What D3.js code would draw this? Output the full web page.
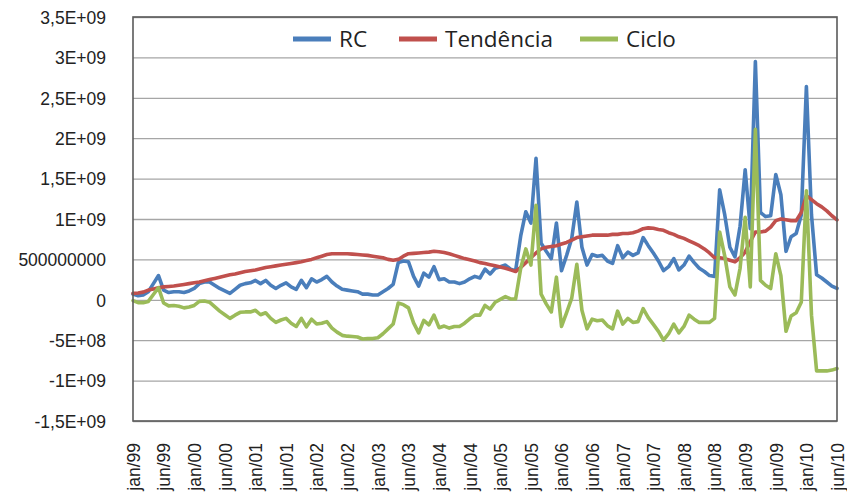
<!DOCTYPE html>
<html>
<head>
<meta charset="utf-8">
<script src="https://cdn.jsdelivr.net/npm/d3@7"></script>
<style>
  body { margin: 0; background: #fff; }
  svg { display: block; font-family: "Open Sans", sans-serif; }
</style>
</head>
<body>
<div id="chart"></div>
<script>

// valores em unidades de 1e8, mensal de jan/99 a jun/10
const UNIT = 1e8;

const rc = [
  0.7, 0.5, 0.6, 1.0, 2.0, 3.0, 1.2, 0.9, 1.0, 1.0,
  0.9, 1.1, 1.4, 2.0, 2.2, 2.2, 1.8, 1.4, 1.1, 0.8,
  1.3, 1.8, 2.0, 2.1, 2.4, 2.0, 2.4, 1.8, 1.4, 1.8,
  2.1, 1.6, 1.3, 2.4, 1.5, 2.6, 2.2, 2.5, 2.9, 2.2,
  1.7, 1.3, 1.2, 1.1, 1.0, 0.7, 0.7, 0.6, 0.6, 1.0,
  1.4, 1.9, 4.6, 4.8, 4.7, 2.9, 1.7, 3.3, 2.8, 4.1,
  2.5, 2.6, 2.2, 2.2, 2.0, 2.2, 2.6, 2.9, 2.7, 3.8,
  3.2, 3.9, 4.1, 4.3, 3.8, 3.6, 7.9, 10.9, 9.5, 17.5,
  7.0, 6.0, 5.1, 9.5, 3.6, 5.5, 7.6, 12.1, 6.5, 4.3,
  5.6, 5.4, 5.5, 4.8, 4.5, 6.7, 5.2, 5.9, 5.5, 5.8,
  7.7, 6.7, 5.8, 4.8, 3.6, 4.1, 5.1, 3.7, 4.3, 5.4,
  4.6, 3.9, 3.5, 3.0, 2.9, 13.6, 10.5, 6.5, 5.3, 9.1,
  16.1, 8.8, 29.5, 10.8, 10.3, 10.4, 15.5, 13.0, 6.0, 7.8,
  8.2, 10.5, 26.4, 10.5, 3.1, 2.7, 2.2, 1.7, 1.4
];

const tendencia = [
  0.8, 0.85, 0.95, 1.2, 1.35, 1.5, 1.6, 1.65, 1.7, 1.8,
  1.9, 2.0, 2.1, 2.2, 2.35, 2.5, 2.65, 2.8, 2.95, 3.1,
  3.2, 3.35, 3.5, 3.6, 3.7, 3.85, 4.0, 4.1, 4.2, 4.3,
  4.4, 4.5, 4.6, 4.7, 4.85, 5.0, 5.2, 5.4, 5.6, 5.7,
  5.7, 5.7, 5.7, 5.65, 5.6, 5.55, 5.5, 5.4, 5.3, 5.2,
  5.0, 4.9, 5.0, 5.4, 5.7, 5.75, 5.8, 5.85, 5.9, 6.0,
  5.95, 5.85, 5.7, 5.5, 5.3, 5.1, 4.95, 4.8, 4.6, 4.5,
  4.35, 4.2, 4.05, 3.9, 3.7, 3.5, 4.0, 4.6, 5.2, 5.8,
  6.3, 6.5, 6.6, 6.7, 6.9, 7.1, 7.4, 7.7, 7.8, 7.9,
  8.0, 8.0, 8.0, 8.0, 8.1, 8.1, 8.2, 8.2, 8.3, 8.5,
  8.8, 8.9, 8.85, 8.7, 8.6, 8.3, 8.1, 7.8, 7.6, 7.3,
  7.0, 6.7, 6.3, 5.8, 5.2, 5.2, 5.1, 4.9, 4.7, 5.2,
  5.9, 7.2, 8.4, 8.4, 8.5, 9.0, 9.8, 10.0, 9.9, 9.8,
  9.8, 10.8, 12.9, 12.4, 11.9, 11.5, 11.0, 10.4, 9.9
];

const ciclo = [
  -0.1, -0.35, -0.35, -0.2, 0.65, 1.5, -0.4, -0.75, -0.7, -0.8,
  -1.0, -0.9, -0.7, -0.2, -0.15, -0.3, -0.85, -1.4, -1.85, -2.3,
  -1.9, -1.55, -1.5, -1.5, -1.3, -1.85, -1.6, -2.3, -2.8, -2.5,
  -2.3, -2.9, -3.3, -2.3, -3.35, -2.4, -3.0, -2.9, -2.7, -3.5,
  -4.0, -4.4, -4.5, -4.55, -4.6, -4.85, -4.8, -4.8, -4.7, -4.2,
  -3.6, -3.0, -0.4, -0.6, -1.0, -2.85, -4.1, -2.55, -3.1, -1.9,
  -3.45, -3.25, -3.5, -3.3, -3.3, -2.9, -2.35, -1.9, -1.9, -0.7,
  -1.15, -0.3, 0.05, 0.4, 0.1, 0.1, 3.9, 6.3, 4.3, 11.7,
  0.7, -0.5, -1.5, 2.8, -3.3, -1.6, 0.2, 4.4, -1.3, -3.6,
  -2.4, -2.6, -2.5, -3.2, -3.6, -1.4, -3.0, -2.3, -2.8, -2.7,
  -1.1, -2.2, -3.05, -3.9, -5.0, -4.2, -3.0, -4.1, -3.3, -1.9,
  -2.4, -2.8, -2.8, -2.8, -2.3, 8.4, 5.4, 1.6, 0.6, 3.9,
  10.2, 1.6, 21.1, 2.4, 1.8, 1.4, 5.7, 3.0, -3.9, -2.0,
  -1.6, -0.3, 13.5, -1.9, -8.8, -8.8, -8.8, -8.7, -8.5
];

const seriesNames = ["RC", "Tendência", "Ciclo"];
const seriesColors = ["#4a7ebb", "#c0504d", "#9bbb59"];

const xTickIdx = [0, 6, 12, 18, 24, 30, 36, 42, 48, 54, 60, 66, 72, 78, 84, 90, 96, 102, 108, 114, 120, 126, 132, 138];
const xTickLabels = ["jan/99", "jun/99", "jan/00", "jun/00", "jan/01", "jun/01", "jan/02", "jun/02",
  "jan/03", "jun/03", "jan/04", "jun/04", "jan/05", "jun/05", "jan/06", "jun/06", "jan/07", "jun/07",
  "jan/08", "jun/08", "jan/09", "jun/09", "jan/10", "jun/10"];

const yTicks = [3.5e9, 3e9, 2.5e9, 2e9, 1.5e9, 1e9, 5e8, 0, -5e8, -1e9, -1.5e9];
const yTickLabels = ["3,5E+09", "3E+09", "2,5E+09", "2E+09", "1,5E+09", "1E+09", "500000000", "0", "-5E+08", "-1E+09", "-1,5E+09"];

const W = 847, H = 496;
const MARGIN = { LEFT: 133, RIGHT: 10, TOP: 17, BOTTOM: 75 };
const WIDTH = W - MARGIN.LEFT - MARGIN.RIGHT;
const HEIGHT = H - MARGIN.TOP - MARGIN.BOTTOM;

const svg = d3.select("#chart").append("svg")
    .attr("width", W)
    .attr("height", H);

svg.append("rect").attr("width", W).attr("height", H).attr("fill", "#fff");

const g = svg.append("g")
    .attr("transform", `translate(${MARGIN.LEFT}, ${MARGIN.TOP})`);

const x = d3.scaleLinear()
    .domain([0, rc.length - 1])
    .range([0, WIDTH]);

const y = d3.scaleLinear()
    .domain([-1.5e9, 3.5e9])
    .range([HEIGHT, 0]);

// grade + rotulos do eixo y
const yAxis = d3.axisLeft(y)
    .tickValues(yTicks)
    .tickFormat((d, i) => yTickLabels[i])
    .tickSize(-WIDTH)
    .tickPadding(27);

const gy = g.append("g").attr("class", "grid").call(yAxis);
gy.select(".domain").remove();
gy.selectAll("line")
    .style("stroke", "#a6a6a6")
    .style("stroke-width", 1.3);
gy.selectAll("text")
    .style("font-size", "17.5px")
    .style("fill", "#222")
    .attr("dy", "0.36em");

// eixo x com rotulos rotacionados
const xAxis = d3.axisBottom(x)
    .tickValues(xTickIdx)
    .tickFormat((d, i) => xTickLabels[i])
    .tickSize(0);

const gx = g.append("g")
    .attr("transform", `translate(0, ${HEIGHT})`)
    .call(xAxis);
gx.select(".domain").remove();
gx.selectAll("text")
    .attr("transform", "rotate(-90)")
    .attr("x", -22)
    .attr("y", 0)
    .attr("dy", "0.36em")
    .style("text-anchor", "end")
    .style("font-size", "17.5px")
    .style("fill", "#222");

// series
const allSeries = [rc, tendencia, ciclo];
const line = d3.line()
    .x((d, i) => x(i))
    .y(d => y(d * UNIT));

allSeries.forEach((s, k) => {
    g.append("path")
        .datum(s)
        .attr("fill", "none")
        .attr("stroke", seriesColors[k])
        .attr("stroke-width", 3.6)
        .attr("stroke-linejoin", "round")
        .attr("stroke-linecap", "round")
        .attr("d", line);
});

// borda da area de plotagem
g.append("rect")
    .attr("width", WIDTH)
    .attr("height", HEIGHT)
    .attr("fill", "none")
    .attr("stroke", "#5a5a5a")
    .attr("stroke-width", 1.6);

// legenda
const legendX = [293, 399, 580];
const legend = svg.append("g");
seriesNames.forEach((name, k) => {
    legend.append("line")
        .attr("x1", legendX[k])
        .attr("x2", legendX[k] + 38)
        .attr("y1", 39)
        .attr("y2", 39)
        .attr("stroke", seriesColors[k])
        .attr("stroke-width", 5);
    legend.append("text")
        .attr("x", legendX[k] + 46)
        .attr("y", 47)
        .style("font-size", "22.5px")
        .style("fill", "#222")
        .text(name);
});

</script>
</body>
</html>
